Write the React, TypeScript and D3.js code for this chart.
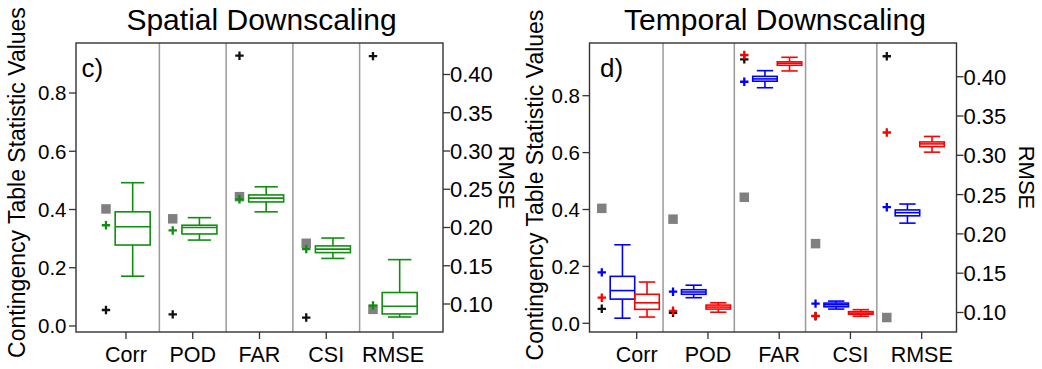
import * as d3 from "d3"

const categories = ["Corr", "POD", "FAR", "CSI", "RMSE"]
const leftTicks = [0, 0.2, 0.4, 0.6, 0.8]
const rmseTicks = [0.1, 0.15, 0.2, 0.25, 0.3, 0.35, 0.4]

// grey squares / plus markers, one value per category (RMSE column is in RMSE units)
const spatialGrey = [0.402, 0.368, 0.444, 0.284, 0.093]
const spatialGreenPlus = [0.346, 0.328, 0.435, 0.264, 0.098]
const spatialBlackPlus = [0.055, 0.04, 0.928, 0.029, 0.424]
// [low whisker, q1, median, q3, high whisker]
const spatialGreenBox = [
  [0.171, 0.278, 0.341, 0.392, 0.492],
  [0.295, 0.316, 0.338, 0.346, 0.372],
  [0.392, 0.426, 0.439, 0.45, 0.478],
  [0.232, 0.252, 0.264, 0.275, 0.302],
  [0.083, 0.087, 0.097, 0.115, 0.158],
]

const temporalGrey = [0.404, 0.366, 0.443, 0.28, 0.0936]
const temporalBlackPlus = [0.051, 0.037, 0.928, 0.025, 0.426]
const temporalBluePlus = [0.179, 0.111, 0.849, 0.069, 0.234]
const temporalRedPlus = [0.09, 0.044, 0.943, 0.026, 0.329]
const temporalBlueBox = [
  [0.018, 0.085, 0.115, 0.165, 0.276],
  [0.09, 0.102, 0.11, 0.118, 0.134],
  [0.828, 0.851, 0.859, 0.868, 0.888],
  [0.05, 0.058, 0.065, 0.071, 0.078],
  [0.2137, 0.223, 0.227, 0.2305, 0.238],
]
const temporalRedBox = [
  [0.022, 0.049, 0.072, 0.102, 0.145],
  [0.039, 0.05, 0.057, 0.064, 0.072],
  [0.887, 0.907, 0.914, 0.919, 0.935],
  [0.025, 0.032, 0.036, 0.041, 0.048],
  [0.304, 0.311, 0.3145, 0.317, 0.324],
]

const GREEN = "#0f8f0f"
const FONT = "'Liberation Sans', Arial, Helvetica, sans-serif"

type BoxSet = { data: number[][]; color: string; offset: number; width: number }
type PlusSet = { data: number[]; color: string }

const Plus = ({ cx, cy, color }: { cx: number; cy: number; color: string }) => (
  <path d={`M${cx - 4.2},${cy}h8.4M${cx},${cy - 4.2}v8.4`} stroke={color} strokeWidth={2.3} fill="none" />
)

const Panel = ({
  title,
  letter,
  letterX,
  frame,
  x,
  y,
  yR,
  sepOffset,
  markerOffset,
  grey,
  plusSets,
  boxes,
  ylabelX,
  ylabelY,
  rmseX,
}: any) => {
  const yFor = (i: number) => (i === 4 ? yR : y)
  return (
    <g>
      <text x={(frame.x0 + frame.x1) / 2 + 2} y={30} textAnchor="middle" fontSize={30}>
        {title}
      </text>
      {/* separators */}
      {d3.range(1, 5).map((i) => (
        <line
          key={i}
          x1={x(i + sepOffset)}
          x2={x(i + sepOffset)}
          y1={frame.y0}
          y2={frame.y1}
          stroke="#9a9a9a"
          strokeWidth={1.5}
        />
      ))}
      {/* grey squares */}
      {grey.map((v: number, i: number) => (
        <rect
          key={i}
          x={x(i + 1 + markerOffset) - 4.75}
          y={yFor(i)(v) - 4.75}
          width={9.5}
          height={9.5}
          fill="#808080"
        />
      ))}
      {/* boxes */}
      {boxes.map((b: BoxSet, bi: number) =>
        b.data.map((d: number[], i: number) => {
          const sc = yFor(i)
          const cx = x(i + 1 + b.offset)
          const w = b.width
          const cap = w / 3
          return (
            <g key={`${bi}-${i}`} stroke={b.color} strokeWidth={1.6} fill="none">
              <line x1={cx} x2={cx} y1={sc(d[0])} y2={sc(d[1])} />
              <line x1={cx} x2={cx} y1={sc(d[3])} y2={sc(d[4])} />
              <line x1={cx - cap} x2={cx + cap} y1={sc(d[0])} y2={sc(d[0])} />
              <line x1={cx - cap} x2={cx + cap} y1={sc(d[4])} y2={sc(d[4])} />
              <rect x={cx - w / 2} y={sc(d[3])} width={w} height={sc(d[1]) - sc(d[3])} />
              <line x1={cx - w / 2} x2={cx + w / 2} y1={sc(d[2])} y2={sc(d[2])} />
            </g>
          )
        })
      )}
      {/* plus markers */}
      {plusSets.map((p: PlusSet, pi: number) =>
        p.data.map((v: number, i: number) => (
          <Plus key={`${pi}-${i}`} cx={x(i + 1 + markerOffset)} cy={yFor(i)(v)} color={p.color} />
        ))
      )}
      {/* frame */}
      <rect
        x={frame.x0}
        y={frame.y0}
        width={frame.x1 - frame.x0}
        height={frame.y1 - frame.y0}
        fill="none"
        stroke="#333"
        strokeWidth={1.4}
      />
      <text x={letterX} y={77} fontSize={26}>
        {letter}
      </text>
      {/* left axis */}
      {leftTicks.map((t) => (
        <g key={t}>
          <line x1={frame.x0 - 7} x2={frame.x0} y1={y(t)} y2={y(t)} stroke="#333" strokeWidth={1.3} />
          <text x={frame.x0 - 9.5} y={y(t)} dy="0.36em" textAnchor="end" fontSize={20.5}>
            {d3.format(".1f")(t)}
          </text>
        </g>
      ))}
      {/* right axis */}
      {rmseTicks.map((t) => (
        <g key={t}>
          <line x1={frame.x1} x2={frame.x1 + 7} y1={yR(t)} y2={yR(t)} stroke="#333" strokeWidth={1.3} />
          <text x={frame.x1 + 7} y={yR(t)} dy="0.36em" fontSize={22}>
            {d3.format(".2f")(t)}
          </text>
        </g>
      ))}
      {/* x axis */}
      {categories.map((c, i) => (
        <g key={c}>
          <line x1={x(i + 1)} x2={x(i + 1)} y1={frame.y1} y2={frame.y1 + 7} stroke="#333" strokeWidth={1.3} />
          <text x={x(i + 1)} y={362} textAnchor="middle" fontSize={21.5}>
            {c}
          </text>
        </g>
      ))}
      <text
        transform={`translate(${ylabelX},${ylabelY}) rotate(-90)`}
        textAnchor="middle"
        fontSize={23}
      >
        Contingency Table Statistic Values
      </text>
      <text transform={`translate(${rmseX},177.5) rotate(90)`} textAnchor="middle" fontSize={22}>
        RMSE
      </text>
    </g>
  )
}

export default function App() {
  const spatialFrame = { x0: 76, x1: 443, y0: 43, y1: 332 }
  const spatialX = d3.scaleLinear().domain([1, 5]).range([126, 393])
  const spatialY = d3.scaleLinear().domain([0, 0.8]).range([326, 93])
  const spatialYR = d3.scaleLinear().domain([0.1, 0.4]).range([304, 74.5])

  const temporalFrame = { x0: 589.5, x1: 956.5, y0: 43, y1: 332 }
  const temporalX = d3.scaleLinear().domain([1, 5]).range([636.7, 921.7])
  const temporalY = d3.scaleLinear().domain([0, 0.8]).range([323.3, 95.7])
  const temporalYR = d3.scaleLinear().domain([0.1, 0.4]).range([312.5, 76.7])

  return (
    <svg
      width={1042}
      height={369}
      style={{ position: "absolute", left: 0, top: 0, background: "#fff" }}
      fontFamily={FONT}
    >
      <rect width={1042} height={369} fill="#fff" />
      <Panel
        title="Spatial Downscaling"
        letter="c)"
        letterX={81.5}
        frame={spatialFrame}
        x={spatialX}
        y={spatialY}
        yR={spatialYR}
        sepOffset={0.5}
        markerOffset={-0.3}
        grey={spatialGrey}
        plusSets={[
          { data: spatialBlackPlus, color: "#111" },
          { data: spatialGreenPlus, color: GREEN },
        ]}
        boxes={[{ data: spatialGreenBox, color: GREEN, offset: 0.1, width: 35 }]}
        ylabelX={25}
        ylabelY={182.5}
        rmseX={498.5}
      />
      <Panel
        title="Temporal Downscaling"
        letter="d)"
        letterX={600}
        frame={temporalFrame}
        x={temporalX}
        y={temporalY}
        yR={temporalYR}
        sepOffset={0.37}
        markerOffset={-0.49}
        grey={temporalGrey}
        plusSets={[
          { data: temporalBlackPlus, color: "#111" },
          { data: temporalBluePlus, color: "#0000ff" },
          { data: temporalRedPlus, color: "#ff0000" },
        ]}
        boxes={[
          { data: temporalBlueBox, color: "#0000ff", offset: -0.2, width: 24.5 },
          { data: temporalRedBox, color: "#ff0000", offset: 0.145, width: 24.5 },
        ]}
        ylabelX={543}
        ylabelY={185}
        rmseX={1018.5}
      />
    </svg>
  )
}
